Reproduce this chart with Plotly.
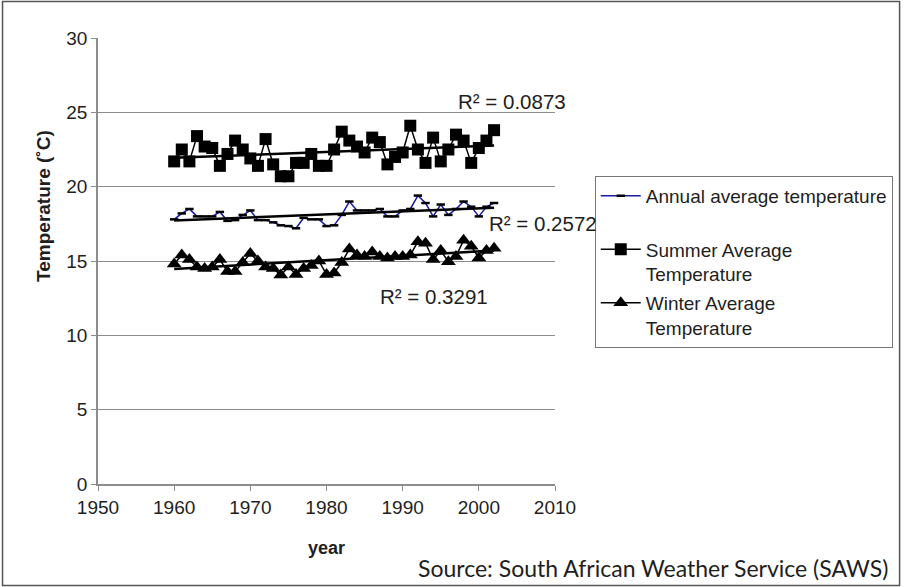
import numpy as np
import plotly.graph_objects as go

years = list(range(1960, 2003))

summer_avg = [21.7, 22.5, 21.7, 23.4, 22.7, 22.6, 21.4, 22.2, 23.1, 22.5,
              21.9, 21.4, 23.2, 21.5, 20.7, 20.7, 21.6, 21.6, 22.2, 21.4,
              21.4, 22.5, 23.7, 23.1, 22.7, 22.3, 23.3, 23.0, 21.5, 22.0,
              22.3, 24.1, 22.5, 21.6, 23.3, 21.7, 22.5, 23.5, 23.1, 21.6,
              22.6, 23.1, 23.8]

annual_avg = [17.8, 18.2, 18.5, 18.0, 18.0, 18.0, 18.3, 17.7, 17.75, 18.1,
              18.4, 17.75, 17.75, 17.6, 17.4, 17.35, 17.2, 17.9, 17.8, 17.8,
              17.35, 17.4, 18.1, 19.0, 18.4, 18.4, 18.4, 18.5, 18.0, 18.0,
              18.4, 18.5, 19.4, 18.9, 18.0, 18.8, 18.1, 18.5, 19.0, 18.65,
              18.0, 18.65, 18.9]

winter_avg = [14.8, 15.4, 15.1, 14.6, 14.5, 14.6, 15.1, 14.3, 14.3, 14.9,
              15.5, 15.0, 14.6, 14.5, 14.05, 14.6, 14.1, 14.5, 14.7, 15.0,
              14.1, 14.2, 14.9, 15.8, 15.4, 15.3, 15.6, 15.3, 15.2, 15.3,
              15.3, 15.4, 16.3, 16.2, 15.1, 15.7, 14.95, 15.3, 16.4, 16.0,
              15.2, 15.7, 15.85]

r2_labels = ["R² = 0.0873", "R² = 0.2572", "R² = 0.3291"]

x_ticks = [1950, 1960, 1970, 1980, 1990, 2000, 2010]
y_ticks = [0, 5, 10, 15, 20, 25, 30]

FONT = "Liberation Sans, Arial, sans-serif"
GRID = "#8c8c8c"
TXT = "#1e1e1e"

fig = go.Figure()


def trend(vals):
    x = np.array(years, dtype=float)
    k, b = np.polyfit(x, np.array(vals, dtype=float), 1)
    ends = [years[0], years[-1]]
    return ends, [k * e + b for e in ends]


fig.add_trace(go.Scatter(
    x=years, y=annual_avg, mode="lines+markers",
    name="Annual average temperature<br> ",
    line=dict(color="#1a1aa0", width=1.5),
    marker=dict(symbol="line-ew", size=6, color="black",
                line=dict(color="black", width=2.5)),
    legendgroup="a"))

fig.add_trace(go.Scatter(
    x=years, y=summer_avg, mode="lines+markers",
    name="Summer Average<br>Temperature",
    line=dict(color="black", width=1.5),
    marker=dict(symbol="square", size=12, color="black"),
    legendgroup="s"))

fig.add_trace(go.Scatter(
    x=years, y=winter_avg, mode="lines+markers",
    name="Winter Average<br>Temperature",
    line=dict(color="black", width=1.5),
    marker=dict(symbol="triangle-up", size=13, color="black"),
    legendgroup="w"))

for vals in (summer_avg, annual_avg, winter_avg):
    tx, ty = trend(vals)
    fig.add_trace(go.Scatter(x=tx, y=ty, mode="lines",
                             line=dict(color="black", width=2.5),
                             showlegend=False, hoverinfo="skip"))

label_pos = [(2004.4, 25.7), (2008.4, 17.5), (1994.1, 12.6)]
for txt, (lx, ly) in zip(r2_labels, label_pos):
    fig.add_annotation(x=lx, y=ly, text=txt, showarrow=False,
                       font=dict(family=FONT, size=20.5, color=TXT))

# axis titles
fig.add_annotation(xref="paper", yref="paper", x=-0.1208, y=0.623,
                   xanchor="center", yanchor="middle",
                   text="<b>Temperature (˚C)</b>", textangle=-90,
                   showarrow=False,
                   font=dict(family=FONT, size=19, color=TXT))
fig.add_annotation(xref="paper", yref="paper", x=(327 - 97.5) / 459.5,
                   y=(484 - 548) / 446, xanchor="center", yanchor="middle",
                   text="<b>year</b>", showarrow=False,
                   font=dict(family=FONT, size=18, color=TXT))

fig.add_annotation(xref="paper", yref="paper", x=1.733, y=(484 - 568) / 446,
                   xanchor="right", yanchor="middle", showarrow=False,
                   text="Source: South African Weather Service (SAWS)",
                   font=dict(family="Lato, sans-serif", size=23, color=TXT))

# outer frame around the whole figure
fig.add_shape(type="rect", xref="paper", yref="paper",
              x0=-0.2089, x1=1.754, y0=-0.2276, y1=1.0818,
              line=dict(color="#555", width=1.5), layer="below")

fig.update_layout(
    width=905, height=587,
    margin=dict(l=97.5, r=348, t=38, b=103),
    paper_bgcolor="white", plot_bgcolor="white",
    font=dict(family=FONT, color=TXT),
    showlegend=True,
    legend=dict(x=1.087, y=(484 - 176) / 446, xanchor="left", yanchor="top",
                bordercolor="#777", borderwidth=1, valign="top",
                font=dict(family=FONT, size=19, color=TXT),
                tracegroupgap=1, itemwidth=40, bgcolor="white"),
    xaxis=dict(range=[1950, 2010], tickvals=x_ticks,
               showgrid=False, zeroline=False,
               showline=True, linecolor=GRID, linewidth=1.5,
               ticks="outside", ticklen=5, tickcolor=GRID,
               tickfont=dict(size=19, family=FONT, color=TXT)),
    yaxis=dict(range=[0, 30], tickvals=y_ticks,
               showgrid=True, gridcolor=GRID, gridwidth=1,
               zeroline=False,
               showline=True, linecolor=GRID, linewidth=1.5,
               ticks="outside", ticklen=5, tickcolor=GRID,
               tickfont=dict(size=19, family=FONT, color=TXT)),
)

fig.write_html("out.html")
